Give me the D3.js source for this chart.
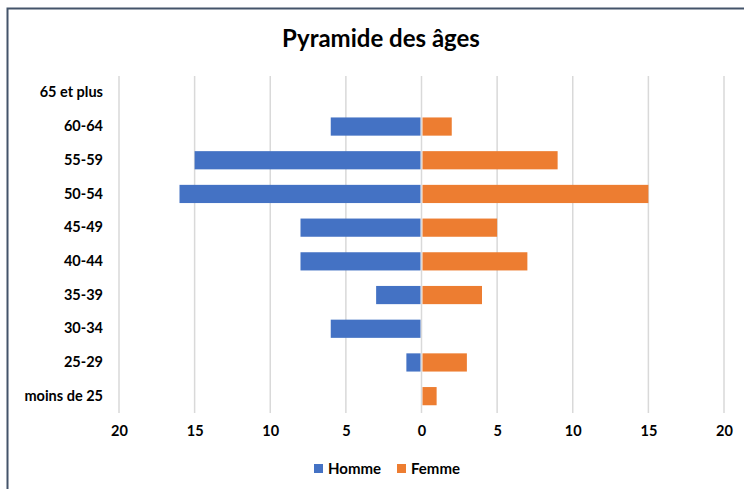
<!DOCTYPE html>
<html>
<head>
<meta charset="utf-8">
<script src="https://cdn.jsdelivr.net/npm/d3@7"></script>
<style>
  body { margin: 0; background: #fff; }
  svg { display: block; font-family: "Lato", "Open Sans", sans-serif; }
</style>
</head>
<body>
<svg id="chart" width="744" height="489"></svg>
<script>
// Age groups, top to bottom
const categories = ["65 et plus", "60-64", "55-59", "50-54", "45-49", "40-44", "35-39", "30-34", "25-29", "moins de 25"];
const homme = [0, 6, 15, 16, 8, 8, 3, 6, 1, 0];
const femme = [0, 2, 9, 15, 5, 7, 4, 0, 3, 1];
const ticks = [-20, -15, -10, -5, 0, 5, 10, 15, 20];

const svg = d3.select("#chart");

// outer frame
svg.append("rect")
    .attr("x", 7.5).attr("y", 8.5)
    .attr("width", 760).attr("height", 500)
    .attr("fill", "#fff")
    .attr("stroke", "#44546a")
    .attr("stroke-width", 2);

const x = d3.scaleLinear().domain([-20, 20]).range([119, 724]);
const y = d3.scaleBand().domain(categories).range([76, 413]).paddingInner(0.46).paddingOuter(0.23);

svg.append("text")
    .attr("x", 381).attr("y", 47)
    .attr("text-anchor", "middle")
    .attr("font-size", 24)
    .attr("font-weight", "bold")
    .attr("fill", "#000")
    .text("Pyramide des âges");

// gridlines
svg.append("g")
    .selectAll("line")
    .data(ticks)
    .join("line")
    .attr("x1", d => x(d)).attr("x2", d => x(d))
    .attr("y1", 76).attr("y2", 413)
    .attr("stroke", "#d9d9d9")
    .attr("stroke-width", 1.5);

// bars
svg.append("g")
    .selectAll("rect")
    .data(categories.map((c, i) => ({ c, v: homme[i] })))
    .join("rect")
    .attr("x", d => x(-d.v))
    .attr("y", d => y(d.c))
    .attr("width", d => Math.max(0, x(0) - x(-d.v) - 1))
    .attr("height", y.bandwidth())
    .attr("fill", "#4472c4");

svg.append("g")
    .selectAll("rect")
    .data(categories.map((c, i) => ({ c, v: femme[i] })))
    .join("rect")
    .attr("x", x(0) + 1)
    .attr("y", d => y(d.c))
    .attr("width", d => Math.max(0, x(d.v) - x(0) - 1))
    .attr("height", y.bandwidth())
    .attr("fill", "#ed7d31");

// x axis labels
const xAxis = d3.axisBottom(x).tickValues(ticks).tickFormat(d => Math.abs(d)).tickSize(0).tickPadding(0);
svg.append("g")
    .attr("transform", "translate(0,426)")
    .call(xAxis)
    .call(g => g.select(".domain").remove())
    .call(g => g.selectAll("text")
        .attr("font-size", 14.5)
        .attr("font-weight", "bold")
        .attr("font-family", "Lato, sans-serif")
        .attr("fill", "#000"));

// y axis labels
const yAxis = d3.axisLeft(y).tickSize(0).tickPadding(0);
svg.append("g")
    .attr("transform", "translate(103,0)")
    .call(yAxis)
    .call(g => g.select(".domain").remove())
    .call(g => g.selectAll("text")
        .attr("font-size", 14.5)
        .attr("font-weight", "bold")
        .attr("font-family", "Lato, sans-serif")
        .attr("fill", "#000"));

// legend
const legend = [
    { name: "Homme", color: "#4472c4", x: 314 },
    { name: "Femme", color: "#ed7d31", x: 397 }
];
const lg = svg.append("g")
    .selectAll("g")
    .data(legend)
    .join("g")
    .attr("transform", d => `translate(${d.x},469)`);
lg.append("rect")
    .attr("x", 0).attr("y", -5)
    .attr("width", 9).attr("height", 9)
    .attr("fill", d => d.color);
lg.append("text")
    .attr("x", 14).attr("y", 5)
    .attr("font-size", 15)
    .attr("font-weight", "bold")
    .attr("fill", "#000")
    .text(d => d.name);
</script>
</body>
</html>
